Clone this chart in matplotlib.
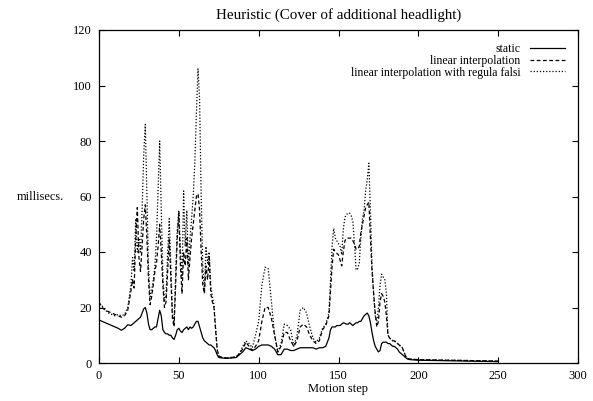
import numpy as np
import matplotlib
matplotlib.use("Agg")
import matplotlib.pyplot as plt

# motion steps (shared by all three series)
steps = [0, 2, 4, 6, 8, 10, 12, 14, 16, 18, 20] + list(range(21, 76)) + \
    [77, 80, 83, 86, 88, 90, 92, 94, 96, 98, 100, 102, 104, 106, 108, 110,
     112, 114, 116, 118, 120, 122, 124, 126, 128, 130, 132, 134, 136, 138,
     140, 142, 144] + list(range(145, 196)) + [200, 210, 220, 230, 240, 250]

static_ms = [15.5, 15, 14.5, 14, 13.5, 13, 12.5, 11.8, 12.5, 13.8, 13.5,
             # 21-75
             14, 14.5, 15, 15.5, 16, 16.5, 18, 19.5, 20, 18,
             14, 12, 12, 12.5, 13, 13, 16, 19, 17, 12,
             11, 10.5, 10.5, 10, 10, 9, 8.5, 10, 12, 12.5,
             11.5, 11, 12, 12.5, 13, 12, 13, 12.5, 13, 14,
             15, 15, 13, 11, 9, 8, 7.5, 7, 6.5, 6.5,
             6, 5.5, 4.5, 3, 2,
             # 77-144
             1.8, 1.7, 1.8, 2, 3, 4, 5.5, 5, 4.5, 5, 6, 6.5, 6.5, 6.5, 6, 5,
             3, 3, 5, 5, 4.5, 4.5, 5, 5.5, 5.5, 5.5, 5.5, 5.5, 5, 5.5,
             5.5, 6, 9,
             # 145-195
             12, 13, 13, 13, 13.5, 13.5, 13.5, 14, 14.5, 14.3,
             14, 14, 14.5, 14, 13.5, 14, 14.5, 14.5, 15, 15,
             16, 17, 17.5, 18, 17, 14.5, 11, 8, 6, 5,
             4, 4.5, 7, 7.5, 7.5, 7.5, 7, 7, 6.5, 6,
             6, 5.5, 5, 4, 3.5, 3, 2.5, 2, 1.5, 1.3, 1.2,
             # 200-250
             1, 0.9, 0.8, 0.7, 0.6, 0.5]

linear_ms = [22, 20, 19, 18.5, 18, 17.5, 17, 16.5, 17, 19, 26,
             30, 27, 45, 56, 38, 33, 42, 52, 57, 45,
             30, 21, 24, 28, 33, 36, 42, 50, 40, 28,
             20, 22, 33, 45, 30, 16, 13, 28, 45, 54,
             35, 25, 40, 35, 45, 30, 38, 45, 50, 55,
             60, 61, 55, 40, 28, 25, 35, 30, 38, 25,
             22, 20, 12, 5, 2.5,
             2, 1.8, 2, 2.2, 3.5, 5, 7.5, 6, 4.5, 6, 8, 15, 20, 20, 16, 10,
             4, 6, 11, 11, 8, 6, 8, 13, 14, 13, 10, 8, 7, 8,
             12, 13.5, 17,
             26, 35, 41, 40, 39.5, 39, 37, 35, 40, 44,
             45, 45, 45, 45, 44, 43, 41, 41, 42, 47,
             50, 53, 56, 57, 58, 45, 33, 25, 18, 13,
             15, 22, 25, 24, 22, 17, 10, 9, 8.5, 8,
             8, 7.5, 7, 6.5, 6, 5.5, 4, 2.5, 1.8, 1.5, 1.4,
             1.2, 1.1, 1, 0.9, 0.8, 0.7]

regula_falsi_ms = [21, 20.5, 19, 18, 17.5, 17, 17.5, 17, 17.5, 20, 28,
                   38, 33, 52, 40, 45, 40, 55, 75, 86, 60,
                   35, 24, 26, 30, 35, 45, 62, 80, 55, 32,
                   22, 25, 40, 52, 35, 18, 14, 32, 48, 55,
                   40, 30, 62, 42, 55, 35, 45, 52, 60, 72,
                   90, 106, 95, 60, 35, 26, 42, 36, 40, 28,
                   24, 21, 13, 5, 2.5,
                   2, 1.8, 2, 2.2, 3.5, 6, 8, 7, 5.5, 10, 15, 28, 34.5, 34, 22, 10,
                   4, 7, 14, 13.5, 12, 6, 10, 19, 20, 18, 13, 9, 7.5, 9,
                   12.5, 14, 18,
                   30, 42, 48.5, 45, 44, 43, 42, 39, 48, 52.5,
                   53.5, 54, 54, 53, 51, 43, 33.5, 34, 36, 45,
                   52, 55, 62, 66, 72, 55, 35, 25, 17, 15,
                   20, 28, 32, 31, 30, 25, 10, 9, 8.5, 8,
                   8, 7.5, 7, 6.5, 6, 5.5, 4, 2.5, 1.8, 1.5, 1.4,
                   1.2, 1.1, 1, 0.9, 0.8, 0.7]

plt.rcParams['font.family'] = ['Liberation Serif', 'DejaVu Serif']
plt.rcParams['font.size'] = 8.5

fig = plt.figure(figsize=(5.93, 4.01), dpi=100)
ax = fig.add_axes([99 / 593, 38 / 401, 479 / 593, 333 / 401])

ax.plot(steps, static_ms, color="black", lw=0.9, label="static")
ax.plot(steps, linear_ms, color="black", lw=0.9, dashes=(3, 2),
        label="linear interpolation")
ax.plot(steps, regula_falsi_ms, color="black", lw=0.9, dashes=(1, 1.5),
        label="linear interpolation with regula falsi")

ax.set_xlim(0, 300)
ax.set_ylim(0, 120)
ax.set_xticks(np.arange(0, 301, 50))
ax.set_yticks(np.arange(0, 121, 20))
ax.tick_params(direction="in", top=True, right=True, length=4, width=0.8,
               labelsize=9, pad=5)
for s in ax.spines.values():
    s.set_linewidth(0.9)

ax.set_title("Heuristic (Cover of additional headlight)", fontsize=10.8, pad=8)
ax.set_xlabel("Motion step", fontsize=9, labelpad=1)
ax.text(-0.123, 0.5, "millisecs.", transform=ax.transAxes, fontsize=8.8,
        ha="center", va="center")

ax.legend(loc="upper right", frameon=False, markerfirst=False,
          handlelength=2.95, handletextpad=0.8, labelspacing=-0.02,
          fontsize=8.5, borderaxespad=0.7)

fig.savefig("out.png", dpi=100)
